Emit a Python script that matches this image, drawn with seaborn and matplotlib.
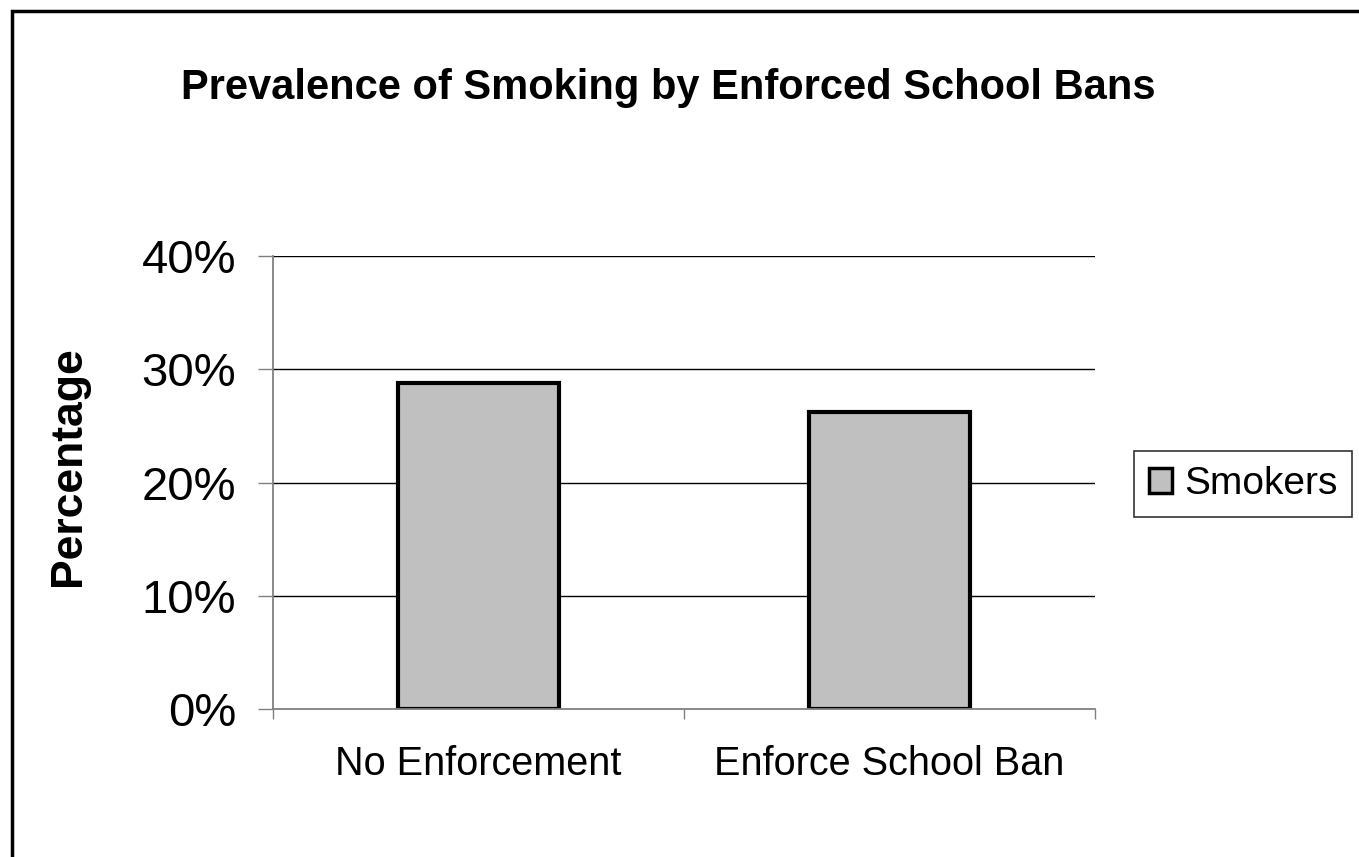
import matplotlib
matplotlib.use("Agg")
import matplotlib.pyplot as plt
import seaborn as sns
import pandas as pd
from matplotlib.patches import Rectangle, Patch

categories = ["No Enforcement", "Enforce School Ban"]
smokers = [28.8, 26.2]
y_ticks = [0, 10, 20, 30, 40]
y_tick_labels = ["0%", "10%", "20%", "30%", "40%"]

sns.set_theme(style="white")
plt.rcParams["font.family"] = ["Liberation Sans", "DejaVu Sans"]
plt.rcParams["text.color"] = "black"

df = pd.DataFrame({"Category": categories, "Smokers": smokers})

fig = plt.figure(figsize=(13.59, 8.57), dpi=100)
ax = fig.add_axes([273 / 1359, 1 - 709 / 857, (1095 - 273) / 1359, (709 - 256) / 857])

sns.barplot(data=df, x="Category", y="Smokers", color="#c0c0c0", width=0.39,
            edgecolor="black", linewidth=3, ax=ax, saturation=1)

ax.set_ylim(0, 40)
ax.set_xlim(-0.5, 1.5)
ax.set_yticks(y_ticks)
ax.set_yticklabels(y_tick_labels, fontsize=34, color="black")
ax.set_xticks([0, 1])
ax.set_xticklabels(categories, fontsize=28.5, color="black")
ax.set_xticks([-0.5, 0.5, 1.5], minor=True)
ax.tick_params(axis="x", which="major", length=0, pad=26)
ax.tick_params(axis="x", which="minor", length=7.5, color="#808080", width=1, direction="out", bottom=True)
ax.tick_params(axis="y", length=10.5, color="#808080", width=1, direction="out", left=True, pad=16)
for v in y_ticks[1:]:
    ax.axhline(v, color="black", linewidth=1.0, zorder=0)

for side in ["top", "right"]:
    ax.spines[side].set_visible(False)
for side in ["left", "bottom"]:
    ax.spines[side].set_color("#808080")
    ax.spines[side].set_linewidth(1.3)

ax.set_xlabel("")
ax.set_ylabel("")
fig.text(69 / 1359, 1 - 466 / 857, "Percentage", rotation=90, ha="center", va="center",
         fontsize=32, fontweight="bold", color="black")

fig.text(668 / 1359, 1 - 88 / 857, "Prevalence of Smoking by Enforced School Bans",
         ha="center", va="center", fontsize=30, fontweight="bold", color="black")

handle = Patch(facecolor="#c0c0c0", edgecolor="black", linewidth=2.5, label="Smokers")
leg = fig.legend(handles=[handle], loc="center left", bbox_to_anchor=(1134 / 1359, 1 - 484 / 857),
                 fontsize=28, frameon=True, fancybox=False, handlelength=0.6, handleheight=0.6,
                 handletextpad=0.3, borderpad=0.38, borderaxespad=0)
leg.get_frame().set_edgecolor("black")
leg.get_frame().set_linewidth(1.2)

# outer chart border (cut off at right and bottom)
fig.patches.append(Rectangle((12 / 1359, -0.1), 1.2, 1 - 11 / 857 + 0.1,
                             transform=fig.transFigure, fill=False,
                             edgecolor="black", linewidth=2.5))

fig.savefig("out.png", dpi=100)
